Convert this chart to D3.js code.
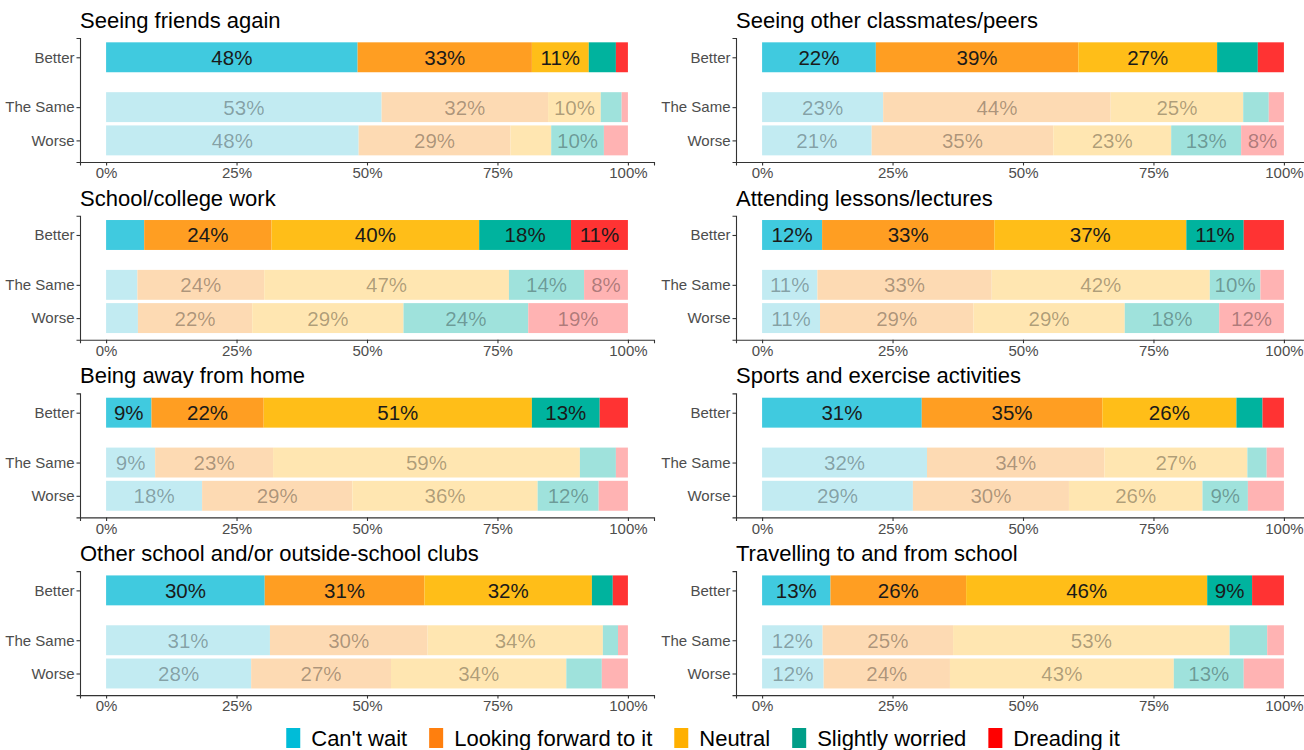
<!DOCTYPE html>
<meta charset="utf-8">
<style>
  body { margin: 0; background: #fff; }
  svg { display: block; }
  text { font-family: 'Liberation Sans', Arial, sans-serif; }
  .axis path, .axis line { stroke: #333; stroke-width: 1.1; }
  .axis text { fill: #4d4d4d; font-size: 15px; }
  .title { font-size: 22px; fill: #000; }
</style>
<body>
<script src="https://cdn.jsdelivr.net/npm/d3@7"></script>
<script>

// panel titles, left column first then right, row by row
var panelTitles = [
  "Seeing friends again", "Seeing other classmates/peers",
  "School/college work", "Attending lessons/lectures",
  "Being away from home", "Sports and exercise activities",
  "Other school and/or outside-school clubs", "Travelling to and from school"
];

var groups = ["Better", "The Same", "Worse"];
var responses = ["Can't wait", "Looking forward to it", "Neutral", "Slightly worried", "Dreading it"];
var xTicks = [0, 25, 50, 75, 100];

// % per response, rows = Better / The Same / Worse
var seeingFriends   = [[48.2, 33.4, 10.9, 5.2, 2.3], [52.8, 31.9, 10.1, 4.0, 1.2], [48.4, 29.1, 7.8, 10.1, 4.6]];
var seeingPeers     = [[21.8, 38.8, 26.6, 7.8, 5.0], [23.2, 43.6, 25.4, 4.9, 2.9], [21.0, 34.8, 22.6, 13.4, 8.2]];
var schoolWork      = [[7.3, 24.4, 39.8, 17.6, 10.9], [6.0, 24.3, 46.9, 14.4, 8.4], [6.1, 21.9, 29.0, 23.9, 19.1]];
var attendLessons   = [[11.5, 33.0, 36.8, 11.0, 7.7], [10.6, 33.4, 41.8, 9.7, 4.5], [11.1, 29.4, 29.0, 18.1, 12.4]];
var awayFromHome    = [[8.7, 21.5, 51.4, 13.0, 5.4], [9.4, 22.6, 58.8, 6.9, 2.3], [18.4, 28.8, 35.5, 11.7, 5.6]];
var sportsExercise  = [[30.6, 34.6, 25.7, 5.0, 4.1], [31.6, 34.0, 27.4, 3.7, 3.3], [28.9, 29.9, 25.6, 8.7, 6.9]];
var clubs           = [[30.4, 30.6, 32.1, 4.0, 2.9], [31.4, 30.2, 33.6, 2.9, 1.9], [27.8, 26.8, 33.6, 6.8, 5.0]];
var travelling      = [[13.1, 26.0, 46.2, 8.6, 6.1], [11.6, 25.0, 53.0, 7.2, 3.2], [11.8, 24.2, 42.9, 13.4, 7.7]];

var panelData = [seeingFriends, seeingPeers, schoolWork, attendLessons,
                 awayFromHome, sportsExercise, clubs, travelling];

// colours: full for Better, washed out for the other two groups
var strongCols = ["#40cadf", "#ff9e22", "#ffbe18", "#00b39e", "#ff3333"];
var lightCols  = ["#c2ebf2", "#fddab3", "#ffe6b1", "#9fe2dc", "#ffb3b3"];
var legendCols = ["#00bcd8", "#ff7f0e", "#ffb000", "#009e88", "#ff0000"];

// layout
var width = 1304, height = 750;
var colX = [80, 736], panelW = 574, panelH = 124;
var rowTop0 = 38, rowStep = 177.7;
var groupPos = [3.5, 2, 1];   // y position of each group inside a panel

var svg = d3.select("body").append("svg")
    .attr("width", width)
    .attr("height", height);

var x = d3.scaleLinear().domain([-5, 105]).range([0, panelW]);
var y = d3.scaleLinear().domain([0.35, 4.08]).range([panelH, 0]);
var barH = y(0) - y(0.9);

panelData.forEach(function(rows, p) {
  var col = p % 2, row = Math.floor(p / 2);
  var g = svg.append("g")
      .attr("transform", "translate(" + colX[col] + "," + (rowTop0 + row * rowStep) + ")");

  g.append("text")
      .attr("class", "title")
      .attr("x", 0)
      .attr("y", -10)
      .text(panelTitles[p]);

  rows.forEach(function(vals, gi) {
    var cum = 0;
    var segs = vals.map(function(v, k) {
      var s = {start: cum, end: cum + v, v: v, k: k};
      cum += v;
      return s;
    });
    var yc = y(groupPos[gi]);

    g.selectAll(null)
        .data(segs)
      .enter().append("rect")
        .attr("x", function(d) { return x(d.start); })
        .attr("width", function(d) { return x(d.end) - x(d.start); })
        .attr("y", yc - barH / 2)
        .attr("height", barH)
        .attr("fill", function(d) { return gi === 0 ? strongCols[d.k] : lightCols[d.k]; });

    g.selectAll(null)
        .data(segs.filter(function(d) { return d.v >= 8; }))
      .enter().append("text")
        .attr("x", function(d) { return x((d.start + d.end) / 2); })
        .attr("y", yc + 7.5)
        .attr("text-anchor", "middle")
        .style("font-size", "20.5px")
        .style("fill", gi === 0 ? "#1a1a1a" : "#000")
        .style("fill-opacity", gi === 0 ? 1 : 0.33)
        .text(function(d) { return Math.round(d.v) + "%"; });
  });

  g.append("g")
      .attr("class", "axis")
      .attr("transform", "translate(0," + panelH + ")")
      .call(d3.axisBottom(x).tickValues(xTicks).tickSizeOuter(0).tickSize(3.5).tickPadding(2)
        .tickFormat(function(d) { return d + "%"; }));

  g.append("g")
      .attr("class", "axis")
      .call(d3.axisLeft(y).tickValues(groupPos).tickSizeOuter(0).tickSize(3.5).tickPadding(2)
        .tickFormat(function(d, i) { return groups[i]; }));
});

// legend along the bottom, centred
var legend = svg.append("g");
var items = legend.selectAll("g")
    .data(responses)
  .enter().append("g");

items.append("rect")
    .attr("width", 14)
    .attr("height", 20)
    .attr("y", 728)
    .attr("fill", function(d, i) { return legendCols[i]; });

items.append("text")
    .attr("x", 25)
    .attr("y", 746)
    .style("font-size", "22px")
    .text(function(d) { return d; });

var pos = 0, offsets = [];
items.each(function() {
  offsets.push(pos);
  var w = d3.select(this).select("text").node().getComputedTextLength();
  pos += 25 + w + 22;
});
var total = pos - 22;
var startX = 703 - total / 2;
items.attr("transform", function(d, i) { return "translate(" + (startX + offsets[i]) + ",0)"; });

</script>
</body>
